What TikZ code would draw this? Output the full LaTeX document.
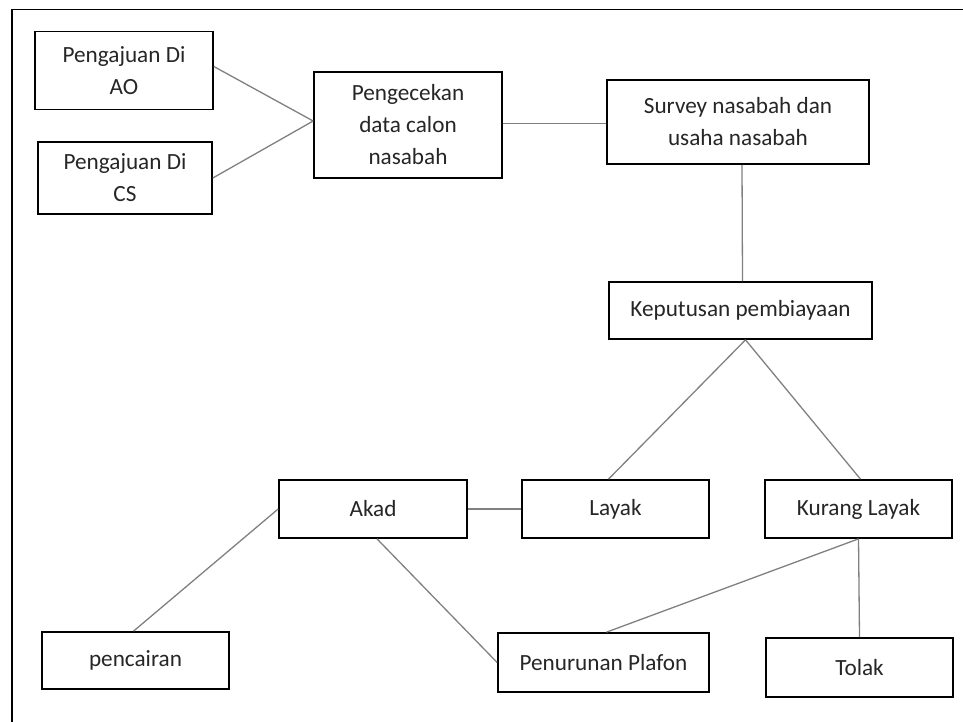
\documentclass[tikz,border=0pt]{standalone}
\usepackage{fontspec}
\setmainfont{Carlito}
\tikzset{
  box/.style={draw=black, line width=1.7pt, fill=white, align=center, inner sep=2pt,
    font=\fontsize{23.2}{32}\selectfont, text=black!85},
  link/.style={draw=black!50, line width=1.3pt},
  frame/.style={draw=black, line width=1.8pt}
}
\begin{document}
\begin{tikzpicture}[x=1pt,y=-1pt]
\useasboundingbox (0,0) rectangle (963,722);
% page frame (top and left)
\coordinate (fr1) at (963,9.5);
\coordinate (fr0) at (12,9.5);
\coordinate (fr2) at (12,722);
\draw[frame] (fr1) -- (fr0) -- (fr2);

\node[box, minimum width=178pt, minimum height=78pt] (ao) at (124,70.5) {Pengajuan Di\\AO};
\node[box, minimum width=174pt, minimum height=72pt] (cs) at (125,178) {Pengajuan Di\\CS};
\node[box, minimum width=188pt, minimum height=106pt] (peng) at (408,125) {Pengecekan\\data calon\\nasabah};
\node[box, minimum width=262pt, minimum height=84pt] (survey) at (738,122) {Survey nasabah dan\\usaha nasabah};
\node[box, minimum width=263pt, minimum height=57pt] (kep) at (740.5,310.5) {Keputusan pembiayaan};
\node[box, minimum width=188pt, minimum height=58pt] (akad) at (373,509) {Akad};
\node[box, minimum width=187pt, minimum height=58pt] (layak) at (615.5,509) {Layak};
\node[box, minimum width=187pt, minimum height=58pt] (kurang) at (858.5,509) {Kurang Layak};
\node[box, minimum width=187pt, minimum height=57pt] (cair) at (135.5,660.5) {pencairan};
\node[box, minimum width=211pt, minimum height=59pt] (plafon) at (603.5,662.5) {Penurunan Plafon};
\node[box, minimum width=187pt, minimum height=59pt] (tolak) at (859.5,667.5) {Tolak};

\draw[link] ([yshift=4pt]ao.east) -- ([yshift=4pt]peng.west);
\draw[link] (cs.east) -- ([yshift=4pt]peng.west);
\draw[link] ([yshift=1.5pt]peng.east) -- ([yshift=1.5pt]peng.east -| survey.west);
\draw[link] ([xshift=4pt]survey.south) -- ([xshift=2pt]kep.north);
\draw[link] ([xshift=5pt]kep.south) -- ([xshift=-7pt]layak.north);
\draw[link] ([xshift=5pt]kep.south) -- ([xshift=2pt]kurang.north);
\draw[link] (akad.east) -- (layak.west);
\draw[link] (akad.west) -- ([xshift=-2pt]cair.north);
\draw[link] ([xshift=4pt]akad.south) -- (plafon.west);
\draw[link] (kurang.south) -- ([xshift=3pt]plafon.north);
\draw[link] (kurang.south) -- (tolak.north);
\end{tikzpicture}
\end{document}
